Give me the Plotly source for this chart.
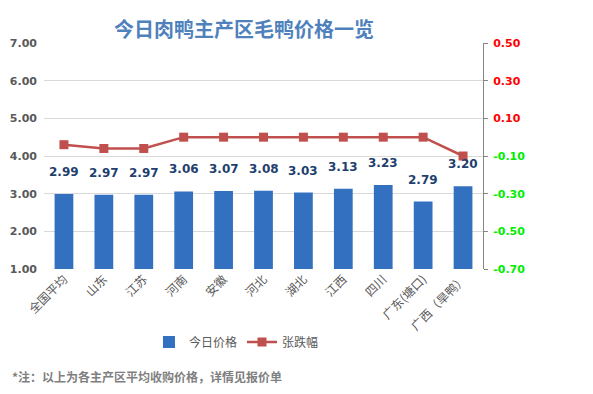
import plotly.graph_objects as go

categories = ["全国平均", "山东", "江苏", "河南", "安徽", "河北", "湖北", "江西", "四川", "广东(塘口)", "广西（旱鸭）"]
prices = [2.99, 2.97, 2.97, 3.06, 3.07, 3.08, 3.03, 3.13, 3.23, 2.79, 3.20]
changes = [-0.04, -0.06, -0.06, 0.00, 0.00, 0.00, 0.00, 0.00, 0.00, 0.00, -0.10]
left_ticks = [1, 2, 3, 4, 5, 6, 7]
right_ticks = [-0.7, -0.5, -0.3, -0.1, 0.1, 0.3, 0.5]

CJK = "Noto Sans CJK SC"
NUM = "DejaVu Sans"
OFF = 8  # page body margin compensation

fig = go.Figure()
fig.add_trace(go.Bar(
    x=categories, y=prices, name="今日价格",
    marker=dict(color="#3470c0", line=dict(width=0)),
    width=0.47, yaxis="y",
))
fig.add_trace(go.Scatter(
    x=categories, y=changes, name="张跌幅", yaxis="y2",
    mode="lines+markers",
    line=dict(color="#c0504d", width=2.5),
    marker=dict(symbol="square", size=9, color="#c0504d"),
))

for c, v in zip(categories, prices):
    fig.add_annotation(x=c, y=v, xref="x", yref="y", text=f"<b>{v:.2f}</b>",
                       showarrow=False, yshift=22,
                       font=dict(family=NUM, size=12, color="#1f3f6e"))

right_text = []
for v in right_ticks:
    col = "#ff0000" if v > 0 else "#00ee00"
    right_text.append(f"<span style='color:{col}'><b>{v:.2f}</b></span>")

W, H = 593, 394
L, T = 44 - OFF, 43 - OFF
PW, PH = 439, 226
fig.update_layout(
    width=W, height=H,
    margin=dict(l=L, r=W - L - PW, t=T, b=H - T - PH, autoexpand=False),
    paper_bgcolor="white", plot_bgcolor="white",
    title=dict(text="<b>今日肉鸭主产区毛鸭价格一览</b>", x=236/W, xanchor="center",
               y=1-(30 - OFF)/H, yanchor="middle",
               font=dict(family=CJK, size=20, color="#4f81bd")),
    xaxis=dict(tickangle=-45, tickfont=dict(family=CJK, size=12, color="#595959"),
               showline=False, ticks="", range=[-0.5, 10.5], automargin=False),
    yaxis=dict(range=[1, 7], tickvals=left_ticks, ticktext=[f"<b>{v:.2f}</b>" for v in left_ticks],
               tickfont=dict(family=NUM, size=11, color="#595959"), automargin=False,
               ticklabelstandoff=6,
               showgrid=True, gridcolor="#d9d9d9", gridwidth=1, zeroline=False, showline=False),
    yaxis2=dict(range=[-0.7, 0.5], overlaying="y", side="right", tickvals=right_ticks,
                ticktext=right_text, tickfont=dict(family=NUM, size=11), automargin=False,
                ticklabelstandoff=3,
                showgrid=False, zeroline=False, showline=True, linecolor="#868686",
                ticks="outside", ticklen=4, tickcolor="#868686"),
    legend=dict(orientation="h", x=(268 - OFF)/W, xanchor="center", y=1-(342 - OFF)/H, yref="container",
                yanchor="middle", font=dict(family=CJK, size=12, color="#595959")),
    showlegend=True,
)
fig.add_annotation(text="<b>*注：以上为各主产区平均收购价格，详情见报价单</b>", xref="paper", yref="paper",
                   x=-34/PW, xanchor="left", y=-(376-269)/PH, yanchor="middle", showarrow=False,
                   font=dict(family=CJK, size=12, color="#7f7f7f"))

fig.write_html("out.html")
